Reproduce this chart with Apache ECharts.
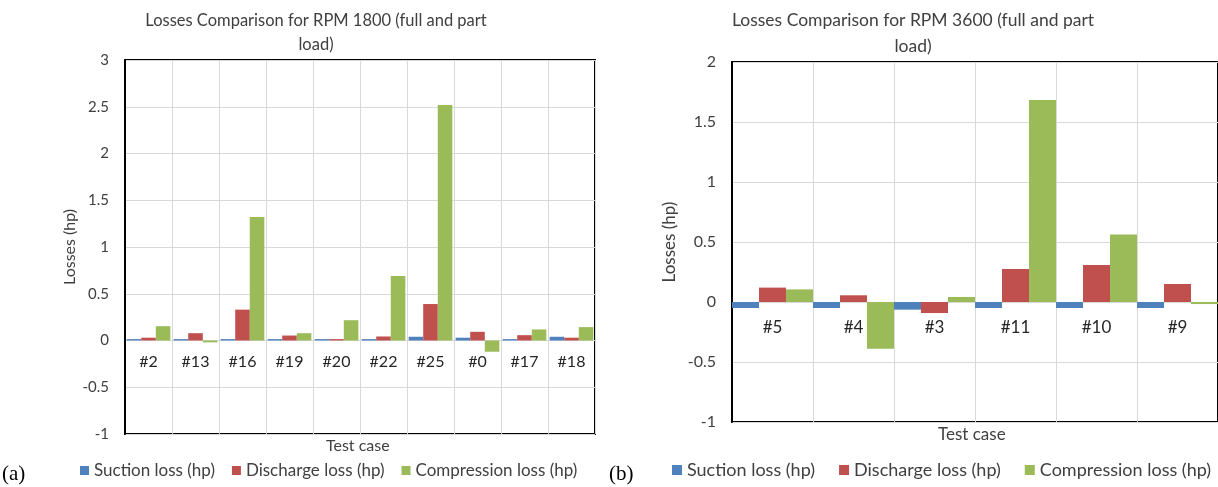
<!DOCTYPE html>
<html>
<head>
<meta charset="utf-8">
<script src="https://cdn.jsdelivr.net/npm/echarts@6/dist/echarts.min.js"></script>
<style>
html,body{margin:0;padding:0;background:#fff;}
#c{width:1218px;height:487px;}
</style>
</head>
<body>
<div id="c"></div>
<script>
const seriesNames = ['Suction loss (hp)', 'Discharge loss (hp)', 'Compression loss (hp)'];

// Chart (a): RPM 1800
const casesA = ['#2', '#13', '#16', '#19', '#20', '#22', '#25', '#0', '#17', '#18'];
const suctionA = [0.015, 0.015, 0.015, 0.015, 0.015, 0.015, 0.04, 0.03, 0.015, 0.04];
const dischargeA = [0.03, 0.078, 0.33, 0.053, 0.015, 0.043, 0.39, 0.093, 0.057, 0.03];
const compressionA = [0.153, -0.02, 1.32, 0.078, 0.217, 0.69, 2.52, -0.12, 0.118, 0.143];

// Chart (b): RPM 3600
const casesB = ['#5', '#4', '#3', '#11', '#10', '#9'];
const suctionB = [-0.05, -0.05, -0.064, -0.05, -0.05, -0.05];
const dischargeB = [0.12, 0.056, -0.092, 0.275, 0.308, 0.15];
const compressionB = [0.105, -0.39, 0.042, 1.683, 0.562, -0.017];

const colors = ['#4f81bd', '#c0504d', '#9bbb59'];
const FONT = 'Lato';
const txt = '#404040';

const chart = echarts.init(document.getElementById('c'), null, {renderer: 'canvas'});

// labels sit just below the zero line (Excel "next to axis")
function xAxisCfg(gridIndex, data, fontSize, margin) {
  return {
    type: 'category', gridIndex: gridIndex, data: data,
    axisLine: {show: false},
    axisTick: {show: false},
    axisLabel: {color: '#262626', fontFamily: FONT, fontSize: fontSize, margin: margin, interval: 0},
    splitLine: {show: true, interval: 0, lineStyle: {color: '#d9d9d9', width: 1}}
  };
}
function yAxisCfg(gridIndex, min, max, fontSize, nameGap) {
  return {
    type: 'value', gridIndex: gridIndex, min: min, max: max, interval: 0.5,
    name: 'Losses (hp)', nameLocation: 'middle', nameGap: nameGap,
    nameTextStyle: {color: txt, fontFamily: FONT, fontSize: fontSize + 1},
    axisLine: {show: true, lineStyle: {color: '#000', width: 2}},
    axisTick: {show: false},
    axisLabel: {color: txt, fontFamily: FONT, fontSize: fontSize, margin: 16},
    splitLine: {show: true, lineStyle: {color: '#d9d9d9', width: 1}}
  };
}
function bars(axisIdx, arrs, catGap) {
  return arrs.map((d, i) => ({
    name: seriesNames[i], type: 'bar', xAxisIndex: axisIdx, yAxisIndex: axisIdx,
    data: d, barGap: '0%', barCategoryGap: catGap,
    itemStyle: {color: colors[i]}, animation: false
  }));
}

chart.setOption({
  animation: false,
  title: [
    {text: 'Losses Comparison for RPM 1800 (full and part\nload)', left: 311, top: 4, textAlign: 'center',
     textStyle: {color: txt, fontFamily: FONT, fontSize: 16.5, fontWeight: 'normal', lineHeight: 24}},
    {text: 'Losses Comparison for RPM 3600 (full and part\nload)', left: 908, top: 2, textAlign: 'center',
     textStyle: {color: txt, fontFamily: FONT, fontSize: 17.5, fontWeight: 'normal', lineHeight: 26}}
  ],
  grid: [
    {left: 125, top: 60, width: 470, height: 374, show: true, borderColor: '#000', borderWidth: 2, containLabel: false},
    {left: 732, top: 62, width: 489, height: 360, show: true, borderColor: '#000', borderWidth: 2, containLabel: false}
  ],
  xAxis: [xAxisCfg(0, casesA, 16, -80), xAxisCfg(1, casesB, 17, -103)],
  yAxis: [yAxisCfg(0, -1, 3, 15, 47), yAxisCfg(1, -1, 2, 16, 54)],
  legend: [
    {data: seriesNames, left: 75, top: 457, icon: 'rect', itemWidth: 9, itemHeight: 9, itemGap: 17,
     textStyle: {color: txt, fontFamily: FONT, fontSize: 17}, selectedMode: false},
    {data: seriesNames, left: 667, top: 456, icon: 'rect', itemWidth: 10, itemHeight: 10, itemGap: 24,
     textStyle: {color: txt, fontFamily: FONT, fontSize: 18}, selectedMode: false}
  ],
  graphic: [
    {type: 'text', left: 326, top: 438, style: {text: 'Test case', fill: txt, font: '16px Lato'}},
    {type: 'text', left: 938, top: 426, style: {text: 'Test case', fill: txt, font: '17px Lato'}},
    {type: 'text', left: 2, top: 464, style: {text: '(a)', fill: '#000', font: '21px "Liberation Serif"'}},
    {type: 'text', left: 609, top: 464, style: {text: '(b)', fill: '#000', font: '21px "Liberation Serif"'}}
  ],
  series: [].concat(
    bars(0, [suctionA, dischargeA, compressionA], '7%'),
    bars(1, [suctionB, dischargeB, compressionB], '0%')
  )
});
</script>
</body>
</html>
